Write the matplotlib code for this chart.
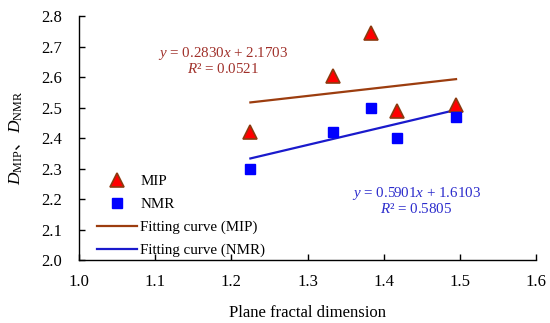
import matplotlib
matplotlib.use('Agg')
import matplotlib.pyplot as plt
import numpy as np

plt.rcParams['font.family'] = ['Liberation Serif', 'Noto Sans CJK SC']
plt.rcParams['mathtext.fontset'] = 'custom'
plt.rcParams['mathtext.rm'] = 'Liberation Serif'
plt.rcParams['mathtext.it'] = 'Liberation Serif:italic'
plt.rcParams['mathtext.sf'] = 'Noto Sans CJK SC'

# data
plane_fd = [1.225, 1.333, 1.383, 1.417, 1.495]
d_mip = [2.42, 2.605, 2.745, 2.49, 2.51]
d_nmr = [2.30, 2.42, 2.50, 2.40, 2.47]

# fitted lines (from the figure equations)
mip_k, mip_b = 0.2830, 2.1703
nmr_k, nmr_b = 0.5901, 1.6103

xticks = [1.0, 1.1, 1.2, 1.3, 1.4, 1.5, 1.6]
yticks = [2.0, 2.1, 2.2, 2.3, 2.4, 2.5, 2.6, 2.7, 2.8]

fig = plt.figure(figsize=(5.5, 3.23), dpi=100)
ax = fig.add_axes([0.1436, 0.195, 0.831, 0.755])

xfit = np.array([min(plane_fd), max(plane_fd)])
ax.plot(plane_fd, d_mip, linestyle='none', marker='^', markersize=10,
        markerfacecolor='#ff0000', markeredgecolor='#8b3a0f', markeredgewidth=1.2,
        label='MIP', zorder=3)
ax.plot(plane_fd, d_nmr, linestyle='none', marker='s', markersize=7.5,
        color='#0000ff', label='NMR', zorder=3)
ax.plot(xfit, mip_k * xfit + mip_b, color='#9c3d0f', lw=1.6,
        label='Fitting curve (MIP)', zorder=2)
ax.plot(xfit, nmr_k * xfit + nmr_b, color='#1a1acc', lw=1.6,
        label='Fitting curve (NMR)', zorder=2)

ax.text(1.189, 2.678, r'$y$ = 0.2830$x$ + 2.1703', color='#a0302a',
        fontsize=10.8, ha='center', va='center')
ax.text(1.189, 2.626, r'$R$² = 0.0521', color='#a0302a',
        fontsize=10.8, ha='center', va='center')
ax.text(1.443, 2.219, r'$y$ = 0.5901$x$ + 1.6103', color='#2b2bcc',
        fontsize=10.8, ha='center', va='center')
ax.text(1.443, 2.167, r'$R$² = 0.5805', color='#2b2bcc',
        fontsize=10.8, ha='center', va='center')

ax.set_xlim(1.0, 1.6)
ax.set_ylim(2.0, 2.8)
ax.set_xticks(xticks)
ax.set_yticks(yticks)
ax.set_xticklabels([f'{v:.1f}' for v in xticks])
ax.set_yticklabels([f'{v:.1f}' for v in yticks])
ax.tick_params(direction='in', length=4, labelsize=12, width=1)
ax.tick_params(axis='x', pad=10)
ax.tick_params(axis='y', pad=12)
ax.spines['top'].set_visible(False)
ax.spines['right'].set_visible(False)
ax.spines['left'].set_linewidth(1)
ax.spines['bottom'].set_linewidth(1)

ax.set_xlabel('Plane fractal dimension', fontsize=12, labelpad=11)
ax.set_ylabel(r'$D_{\mathrm{MIP}}\mathsf{、}D_{\mathrm{NMR}}$', fontsize=12.5, labelpad=12)

ax.legend(loc='lower left', frameon=False, fontsize=10.8, handlelength=2.65,
          handletextpad=0.2, labelspacing=0.62, borderaxespad=0.0,
          bbox_to_anchor=(0.027, -0.013))

fig.savefig('out.png', dpi=100)
